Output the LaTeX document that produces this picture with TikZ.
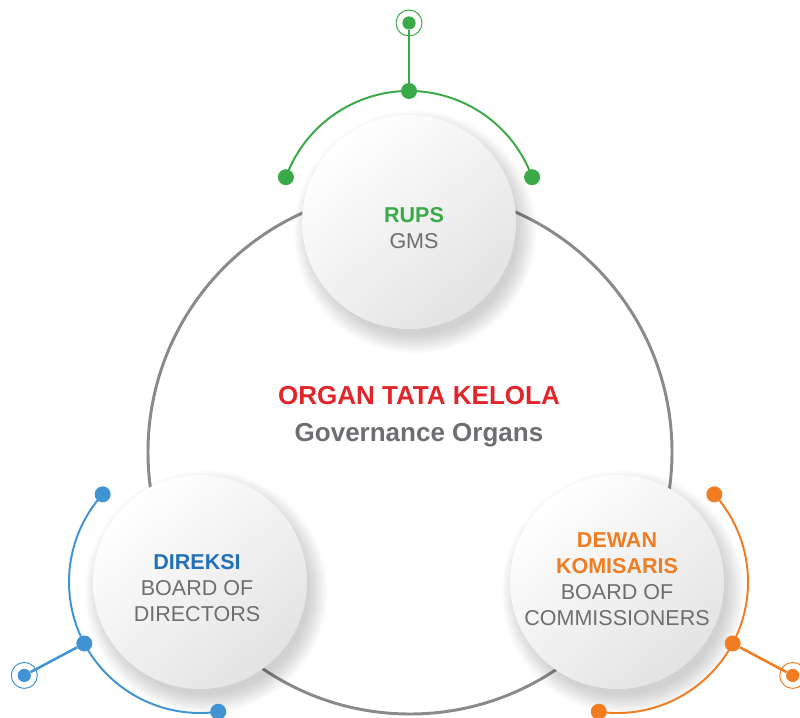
\documentclass[tikz,border=0pt]{standalone}
\usepackage{fontspec}
\setmainfont{Liberation Sans}
\usetikzlibrary{calc}
\definecolor{cgreen}{HTML}{3AAA48}
\definecolor{cblue}{HTML}{4194D3}
\definecolor{cdarkblue}{HTML}{2470B8}
\definecolor{corange}{HTML}{F07D22}
\definecolor{cred}{HTML}{E2252B}
\definecolor{cgrey}{HTML}{6D6E71}
\definecolor{cring}{HTML}{8A8A8A}
\tikzset{
  every picture/.style={x=0.025cm, y=0.025cm},
  organ/.style={circle, minimum size=5.35cm, inner sep=0pt, top color=white, bottom color=black!11, shading angle=40},
  caption/.style={align=center, text=cgrey, font=\fontsize{15.3}{18.5}\selectfont},
  limb/.style={draw=#1, line width=1.4pt},
  knob/.style={circle, fill=#1, minimum size=0.4cm, inner sep=0pt},
  tipdot/.style={circle, fill=#1, minimum size=0.33cm, inner sep=0pt},
  headline/.style={align=center, text=cgrey, font=\bfseries\fontsize{18.5}{26.5}\selectfont},
}
\begin{document}
\begin{tikzpicture}
  \clip (0,0) rectangle (800,717);
  \useasboundingbox (0,0) rectangle (800,717);
  \coordinate (pT) at (409,495);
  \coordinate (pL) at (200,135);
  \coordinate (pR) at (617,135);
  \draw[cring, line width=2.1pt] (410,265) circle (262);
  \foreach \p in {pT,pL,pR}
    \foreach \k in {0,...,9}
      \fill[black, opacity=0.02] ($(\p)+(6,-10)$) circle ({121-2*\k});
  \node[organ] (rups) at (pT) {};
  \node[organ] (direksi) at (pL) {};
  \node[organ] (dewan) at (pR) {};
  \node[caption] (rups-text) at ($(rups)+(5,-6)$) {\textcolor{cgreen}{\textbf{RUPS}}\\GMS};
  \node[caption] (direksi-text) at ($(direksi)+(-3,-6)$) {\textcolor{cdarkblue}{\textbf{DIREKSI}}\\BOARD OF\\DIRECTORS};
  \node[caption] (dewan-text) at ($(dewan)+(0,3)$) {\textcolor{corange}{\textbf{DEWAN}}\\\textcolor{corange}{\textbf{KOMISARIS}}\\BOARD OF\\COMMISSIONERS};
  \foreach \n/\col/\a in {rups/cgreen/90, direksi/cblue/208, dewan/corange/332} {
    \draw[limb=\col] ($(\n)+(\a-70:131)$) arc[start angle=\a-70, end angle=\a+70, radius=131];
    \node[knob=\col] (\n-a) at ($(\n)+(\a-70:131)$) {};
    \node[knob=\col] (\n-b) at ($(\n)+(\a+70:131)$) {};
    \node[knob=\col] (\n-mid) at ($(\n)+(\a:131)$) {};
    \node[tipdot=\col] (\n-tip) at ($(\n)+(\a:199)$) {};
    \draw[\col, line width=0.7pt] (\n-tip) circle (13);
    \draw[limb=\col, line width=1.8pt] (\n-mid) -- (\n-tip);
  }
  \node[headline] (title) at (419,300) {\textcolor{cred}{ORGAN TATA KELOLA}\\Governance Organs};
\end{tikzpicture}
\end{document}
